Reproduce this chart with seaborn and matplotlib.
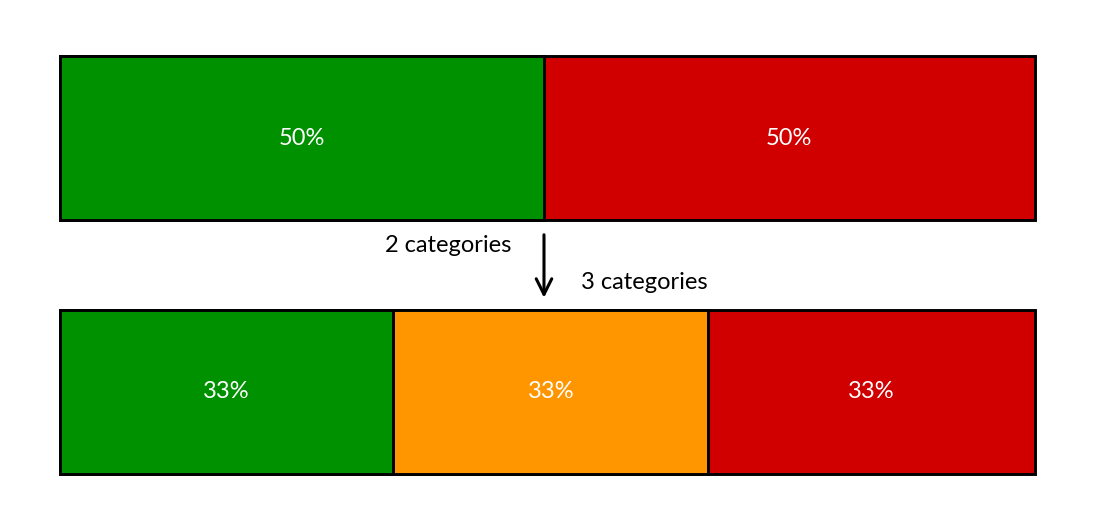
import pandas as pd
import seaborn as sns
import matplotlib.pyplot as plt

# bar rows and their segment shares
rows = ["2 categories", "3 categories"]
top_shares = [0.496, 0.504]
top_labels = ["50%", "50%"]
top_colors = ["#009100", "#d00000"]
bottom_shares = [0.342, 0.323, 0.335]
bottom_labels = ["33%", "33%", "33%"]
bottom_colors = ["#009100", "#ff9600", "#d00000"]

sns.set_style("white")
plt.rcParams["font.family"] = ["Lato", "DejaVu Sans"]
plt.rcParams["text.color"] = "black"

fig = plt.figure(figsize=(10.95, 5.05), dpi=100)
ax = fig.add_axes([60 / 1095, 31 / 505, 975 / 1095, 418 / 505])

bar_h = 0.647


def stacked_row(ax, row, shares, labels, colors):
    # draw cumulative widths from the widest down so the segments stack
    cum = pd.Series(shares).cumsum()
    for i in reversed(range(len(shares))):
        df = pd.DataFrame({"row": [row], "width": [cum[i]]})
        sns.barplot(data=df, x="width", y="row", orient="h", color=colors[i],
                    saturation=1, width=bar_h, edgecolor="black", linewidth=2.1,
                    order=rows, ax=ax)
    for i, lab in enumerate(labels):
        start = cum[i] - shares[i]
        ax.text(start + shares[i] / 2, rows.index(row), lab, color="white",
                ha="center", va="center", fontsize=17)


stacked_row(ax, rows[0], top_shares, top_labels, top_colors)
stacked_row(ax, rows[1], bottom_shares, bottom_labels, bottom_colors)
for p in ax.patches:
    p.set_clip_on(False)

ax.set_xlim(0, 1)
ax.set_ylim(1 + bar_h / 2, -bar_h / 2)
ax.axis("off")

ax.annotate("", xy=(0.4964, 0.64), xytext=(0.4964, 0.37),
            arrowprops=dict(arrowstyle="->", color="black", lw=2.2,
                            mutation_scale=28))
ax.text(0.398, 0.425, rows[0], ha="center", va="center", fontsize=17)
ax.text(0.599, 0.567, rows[1], ha="center", va="center", fontsize=17)

fig.savefig("out.png", dpi=100)
